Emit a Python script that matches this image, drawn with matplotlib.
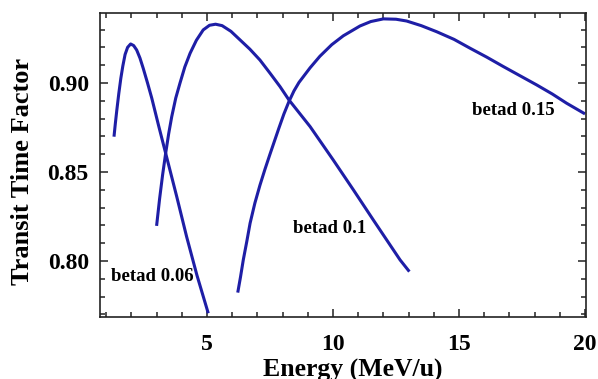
import matplotlib
matplotlib.use('Agg')
import matplotlib.pyplot as plt
from matplotlib.ticker import MultipleLocator

# transit time factor vs. energy for three design betas
e_006 = [1.31, 1.36, 1.42, 1.50, 1.58, 1.66, 1.75, 1.85, 1.97, 2.09, 2.21, 2.34,
         2.47, 2.64, 2.81, 3.08, 3.36, 3.80, 4.19, 4.60, 5.05]
t_006 = [0.8698, 0.8768, 0.8845, 0.8940, 0.9025, 0.9095, 0.9160, 0.9200, 0.9219, 0.9210, 0.9185, 0.9140,
         0.9082, 0.9000, 0.8914, 0.8760, 0.8605, 0.8361, 0.8137, 0.7920, 0.7706]

e_010 = [3.00, 3.12, 3.24, 3.36, 3.48, 3.60, 3.76, 3.93, 4.12, 4.33, 4.58, 4.85,
         5.10, 5.34, 5.60, 5.95, 6.31, 6.70, 7.10, 7.50, 7.90, 8.25, 9.09, 10.01,
         10.81, 11.60, 12.66, 13.03]
t_010 = [0.8197, 0.8350, 0.8485, 0.8605, 0.8715, 0.8810, 0.8915, 0.9000, 0.9090, 0.9167, 0.9240, 0.9298,
         0.9324, 0.9330, 0.9322, 0.9290, 0.9242, 0.9190, 0.9129, 0.9055, 0.8979, 0.8905, 0.8755, 0.8567,
         0.8399, 0.8230, 0.8006, 0.7940]

e_015 = [6.22, 6.33, 6.44, 6.58, 6.71, 6.90, 7.10, 7.30, 7.50, 7.85, 8.05, 8.25,
         8.45, 8.65, 9.09, 9.48, 9.95, 10.41, 11.07, 11.50, 12.00, 12.50, 12.92, 13.50,
         14.11, 14.80, 15.44, 16.10, 16.76, 17.40, 18.08, 18.70, 19.27, 20.00]
t_015 = [0.7822, 0.7910, 0.8006, 0.8110, 0.8212, 0.8325, 0.8425, 0.8515, 0.8600, 0.8745, 0.8825, 0.8895,
         0.8955, 0.9003, 0.9085, 0.9150, 0.9215, 0.9265, 0.9320, 0.9345, 0.9360, 0.9358, 0.9348, 0.9322,
         0.9288, 0.9245, 0.9195, 0.9145, 0.9092, 0.9042, 0.8989, 0.8938, 0.8886, 0.8826]

labels = ['betad 0.06', 'betad 0.1', 'betad 0.15']
label_pos = [(1.19, 0.791), (8.41, 0.818), (15.52, 0.8843)]

plt.rcParams['font.family'] = 'Liberation Serif'
plt.rcParams['font.weight'] = 'bold'

fig = plt.figure(figsize=(5.98, 3.79), dpi=100)
ax = fig.add_axes([0.1672, 0.1636, 0.8128, 0.8021])

line_color = '#1e1ea6'
for e, t in [(e_006, t_006), (e_010, t_010), (e_015, t_015)]:
    ax.plot(e, t, color=line_color, lw=2.2, solid_capstyle='butt', solid_joinstyle='round')

for txt, (x, y) in zip(labels, label_pos):
    ax.text(x, y, txt, fontsize=13.5, fontweight='bold', ha='left', va='center')

ax.set_xlim(0.754, 20.04)
ax.set_ylim(0.7685, 0.9393)

ax.xaxis.set_major_locator(MultipleLocator(5))
ax.xaxis.set_minor_locator(MultipleLocator(1))
ax.yaxis.set_major_locator(MultipleLocator(0.05))
ax.yaxis.set_minor_locator(MultipleLocator(0.01))
ax.yaxis.set_major_formatter(lambda v, pos: f'{v:.2f}')

ax.tick_params(which='both', direction='in', top=True, right=True, width=1.1, color='#222222')
ax.tick_params(which='major', length=6)
ax.tick_params(which='minor', length=3.6)
ax.tick_params(axis='x', which='major', pad=12, labelsize=17)
ax.tick_params(axis='y', which='major', pad=8, labelsize=17)

for s in ax.spines.values():
    s.set_linewidth(1.2)
    s.set_color('#222222')

ax.set_xlabel('Energy (MeV/u)', fontsize=18.5, fontweight='bold')
ax.xaxis.label.set_va('baseline')
ax.xaxis.set_label_coords(0.5206, -0.197)

ax.set_ylabel('Transit Time Factor', fontsize=19, fontweight='bold')
ax.yaxis.label.set_va('center')
ax.yaxis.set_label_coords(-0.160, 0.4786)

fig.savefig('out.png', dpi=100)
